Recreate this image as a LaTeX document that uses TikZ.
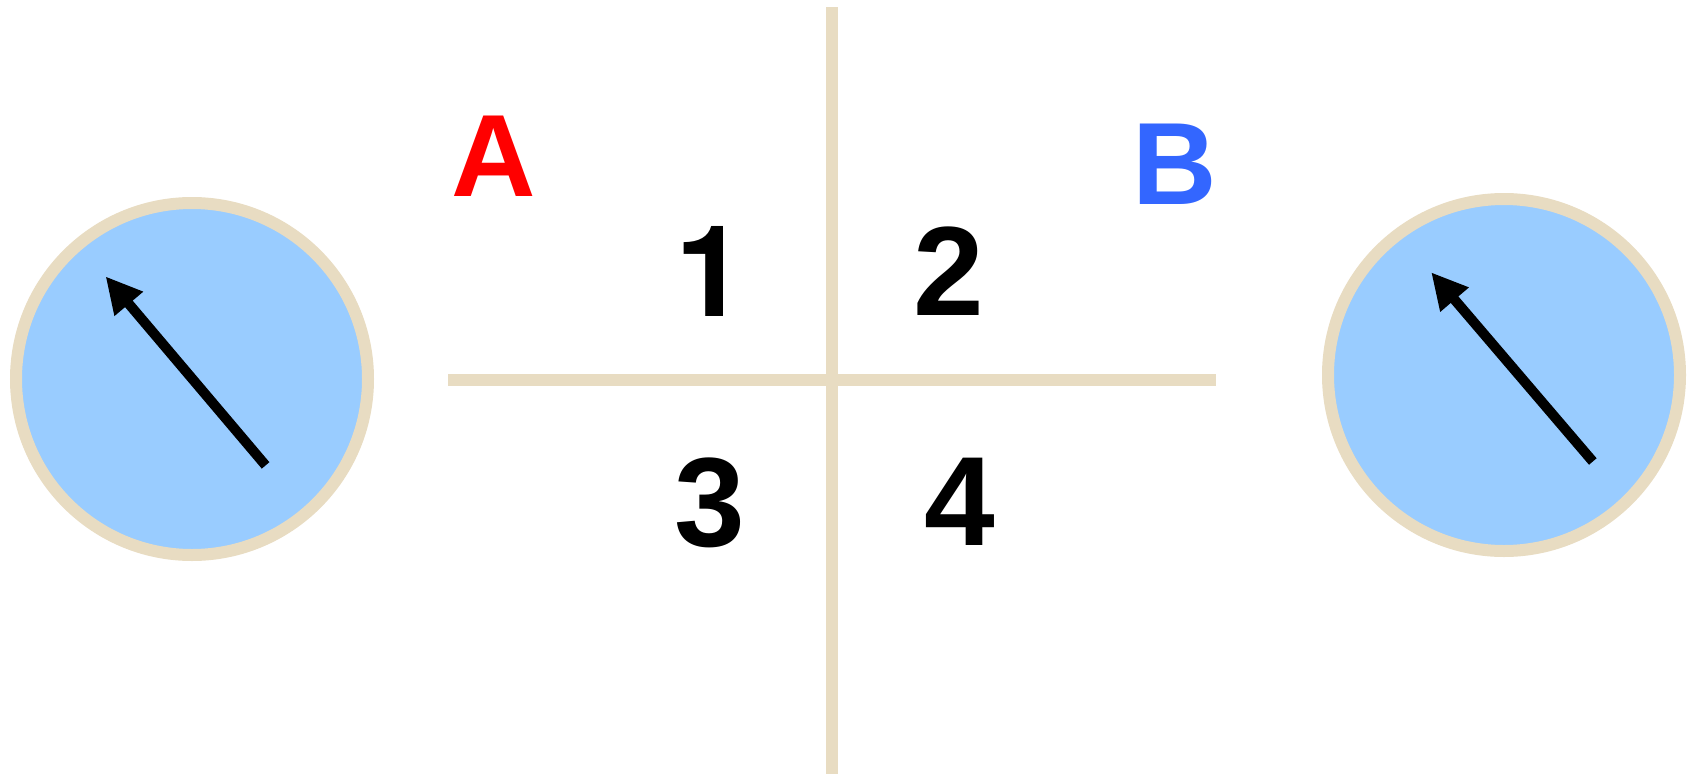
\documentclass[tikz,border=0pt]{standalone}
\usepackage{fontspec}
\setmainfont{Liberation Sans}
\newfontfamily\heroslike{TeX Gyre Heros}
\usetikzlibrary{arrows.meta}
\definecolor{beige}{RGB}{232,220,194}
\definecolor{skyfill}{RGB}{153,204,255}
\definecolor{bblue}{RGB}{51,102,255}
\definecolor{ared}{RGB}{255,0,0}
\begin{document}
\begin{tikzpicture}[x=1pt,y=-1pt,
  dial/.style={circle, draw=beige, fill=skyfill, line width=12pt, minimum size=352pt, inner sep=0pt},
  needle/.style={line width=10pt, -{Triangle[length=36pt,width=35pt]}},
  rule/.style={draw=beige, line width=12pt},
  digit/.style={font=\bfseries\fontsize{127}{127}\selectfont, inner sep=0pt},
  letter/.style={font=\bfseries\fontsize{117}{117}\selectfont, inner sep=0pt}]
\useasboundingbox (0,0) rectangle (1690,774);
% rules
\coordinate (hL) at (448,380);
\coordinate (hR) at (1216,380);
\coordinate (vT) at (832,7);
\coordinate (vB) at (832,774);
\draw[rule] (vT) -- (vB);
\draw[rule] (hL) -- (hR);
% dials
\node[dial] (dialL) at (192,379) {};
\node[dial] (dialR) at (1504,375) {};
\coordinate (tailL) at (265.6,465.4);
\coordinate (tipL) at (105.6,276.4);
\coordinate (tailR) at (1592.8,461.5);
\coordinate (tipR) at (1431.2,272.3);
\draw[needle] (tailL) -- (tipL);
\draw[needle] (tailR) -- (tipR);
% labels
\node[letter, text=ared] (labA) at (493.5,156) {A};
\node[letter, text=bblue] (labB) at (1175,164) {B};
\node[digit] (n1) at (711,271.5) {\heroslike 1};
\node[digit] (n2) at (948.5,271.5) {2};
\node[digit] (n3) at (709.5,503) {3};
\node[digit] (n4) at (959.7,502) {4};
\end{tikzpicture}
\end{document}
